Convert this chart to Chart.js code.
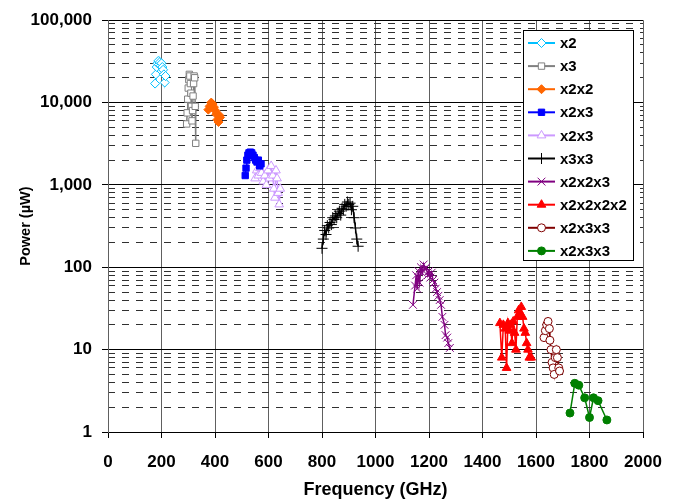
<!DOCTYPE html>
<html><head><meta charset="utf-8">
<script src="https://cdn.jsdelivr.net/npm/chart.js@4.4.1/dist/chart.umd.min.js"></script>
<style>html,body{margin:0;padding:0;background:#fff}#wrap{width:678px;height:501px}</style>
</head><body><div id="wrap"><canvas id="c" width="678" height="501"></canvas></div>
<script>
// ---------- data ----------
const seriesNames = ['x2','x3','x2x2','x2x3','x2x3','x3x3','x2x2x3','x2x2x2x2','x2x3x3','x2x3x3'];
const yTickValues = [1,10,100,1000,10000,100000];
const yMinorValues = [2,3,4,5,6,7,8,9,20,30,40,50,60,70,80,90,200,300,400,500,600,700,800,900,2000,3000,4000,5000,6000,7000,8000,9000,20000,30000,40000,50000,60000,70000,80000,90000];
const xTickStep = 200;

const x2Freq  = [176,179,182,185,188,191,194,197,200,203,206,209,212,215];
const x2Power = [17000,22000,27000,30000,32000,29000,31000,28000,30000,27000,25000,22000,17500,21000];

const x3Freq  = [294,296,298,300,302,304,306,308,310,312,314,316,318,320,322,324,326,328];
const x3Power = [5500,7500,11000,15000,19000,22000,21000,17000,13000,9000,6000,8000,12000,17000,21000,20000,9000,3200];

const x2x2Freq  = [375,380,386,391,396,401,405,409,413,416,419];
const x2x2Power = [8200,9000,10000,9600,8800,8000,7200,6200,5800,7000,6600];

const x2x3aFreq  = [513,516,519,523,527,532,537,542,547,552,557,562,567,572];
const x2x3aPower = [1300,1600,2000,2300,2450,2500,2450,2300,2150,2000,1900,2000,1700,1800];

const x2x3bFreq  = [550,556,562,568,574,580,586,592,598,604,610,616,620,624,628,632,636,640,644];
const x2x3bPower = [1200,1500,1300,1600,1400,1100,1300,1000,1500,1200,1700,1300,900,700,1500,1200,800,580,900];

const x3x3Freq  = [800,805,810,815,820,825,830,835,840,845,850,855,860,865,870,875,880,885,890,895,900,905,910,915,920,925,930,935];
const x3x3Power = [170,220,280,250,320,300,350,330,400,380,420,400,450,480,430,520,500,580,550,620,580,600,500,550,400,300,220,180];

const x2x2x3Freq  = [1140,1148,1152,1156,1160,1165,1170,1175,1180,1185,1190,1195,1200,1205,1210,1215,1220,1225,1230,1235,1240,1245,1250,1258,1262,1268,1272,1278];
const x2x2x3Power = [35,60,80,55,90,65,100,85,108,95,100,80,90,75,86,70,65,55,50,45,40,35,25,20,15,14,12,10.5];

const x2x2x2x2Freq  = [1465,1472,1478,1485,1490,1495,1500,1505,1510,1515,1520,1525,1530,1535,1540,1545,1550,1555,1560,1565,1570,1575,1582];
const x2x2x2x2Power = [21,8,20,18,6,21,17,20,12,22,16,10,25,30,28,33,25,18,16,12,10,8,8];

const x2x3x3aFreq  = [1630,1635,1640,1645,1650,1652,1656,1660,1664,1668,1672,1676,1680,1685,1688];
const x2x3x3aPower = [14,17,20,22,18,13,10,7,6,5,8,10,8,6,5.5];

const x2x3x3bFreq  = [1727,1745,1760,1782,1800,1815,1832,1865];
const x2x3x3bPower = [1.7,3.9,3.7,2.6,1.5,2.6,2.4,1.4];

// ---------- chart ----------
function pts(f, p) { return f.map((v, i) => ({x: v, y: p[i]})); }
function mk(label, f, p, color, style, filled, radius) {
  return {
    label: label, data: pts(f, p), showLine: true,
    borderColor: color, backgroundColor: color, borderWidth: 1.5,
    pointStyle: style, pointRadius: radius, pointHoverRadius: radius,
    pointBorderColor: color, pointBackgroundColor: filled ? color : '#ffffff',
    pointBorderWidth: 1, tension: 0
  };
}
const datasets = [
  mk(seriesNames[0], x2Freq, x2Power, '#00c0ff', 'rectRot', false, 4.5),
  mk(seriesNames[1], x3Freq, x3Power, '#808080', 'rect', false, 4.5),
  mk(seriesNames[2], x2x2Freq, x2x2Power, '#ff6600', 'rectRot', true, 4.5),
  mk(seriesNames[3], x2x3aFreq, x2x3aPower, '#0000ff', 'rect', true, 4.5),
  mk(seriesNames[4], x2x3bFreq, x2x3bPower, '#cc99ff', 'triangle', false, 5),
  mk(seriesNames[5], x3x3Freq, x3x3Power, '#000000', 'cross', false, 5.5),
  mk(seriesNames[6], x2x2x3Freq, x2x2x3Power, '#800080', 'crossRot', false, 5.5),
  mk(seriesNames[7], x2x2x2x2Freq, x2x2x2x2Power, '#ff0000', 'triangle', true, 5),
  mk(seriesNames[8], x2x3x3aFreq, x2x3x3aPower, '#800000', 'circle', false, 4),
  mk(seriesNames[9], x2x3x3bFreq, x2x3x3bPower, '#008000', 'circle', true, 4)
];

const FONT = 'Liberation Sans, Arial, sans-serif';

const boxLegend = {
  id: 'boxLegend',
  afterDraw(chart) {
    const ctx = chart.ctx, a = chart.chartArea;
    const bx = Math.round(a.right - 120), by = Math.round(a.top + 10), bw = 110, bh = 230;
    ctx.save();
    ctx.fillStyle = '#ffffff'; ctx.fillRect(bx, by, bw, bh);
    ctx.strokeStyle = '#000000'; ctx.lineWidth = 1; ctx.setLineDash([]);
    ctx.strokeRect(bx + 0.5, by + 0.5, bw, bh);
    chart.data.datasets.forEach((ds, i) => {
      const y = by + 13 + i * 23.1;
      ctx.strokeStyle = ds.borderColor; ctx.lineWidth = 2;
      ctx.beginPath(); ctx.moveTo(bx + 5, y); ctx.lineTo(bx + 32, y); ctx.stroke();
      ctx.fillStyle = ds.pointBackgroundColor; ctx.strokeStyle = ds.pointBorderColor; ctx.lineWidth = 1;
      Chart.helpers.drawPoint(ctx, {pointStyle: ds.pointStyle, radius: ds.pointRadius, borderWidth: 1, rotation: 0}, bx + 18.5, y);
      ctx.fillStyle = '#000000';
      ctx.font = 'bold 15px ' + FONT;
      ctx.textBaseline = 'middle'; ctx.textAlign = 'left';
      ctx.fillText(ds.label, bx + 37, y + 1);
    });
    ctx.restore();
  }
};

new Chart(document.getElementById('c'), {
  type: 'scatter',
  data: { datasets: datasets },
  plugins: [boxLegend],
  options: {
    responsive: false, animation: false, devicePixelRatio: 1,
    layout: { padding: { left: 0, right: 35, top: 14, bottom: 0 } },
    plugins: { legend: { display: false }, tooltip: { enabled: false } },
    scales: {
      x: {
        type: 'linear', min: 0, max: 2000,
        afterFit: (s) => { s.height = 69; },
        ticks: { stepSize: xTickStep, color: '#000', font: { family: FONT, size: 17, weight: 'bold' }, padding: 14, maxRotation: 0,
          callback: (v) => String(v) },
        grid: { color: '#606060', lineWidth: 1, tickColor: '#000', tickLength: 6 },
        border: { color: '#000', width: 1 },
        title: { display: true, text: 'Frequency (GHz)', color: '#000', font: { family: FONT, size: 18, weight: 'bold' }, padding: { top: 0, bottom: 0 } }
      },
      y: {
        type: 'logarithmic', min: 1, max: 100000,
        afterFit: (s) => { s.width = 108; },
        afterBuildTicks: (s) => { s.ticks = yTickValues.map(v => ({ value: v })); },
        ticks: { color: '#000', font: { family: FONT, size: 17, weight: 'bold' }, padding: 10,
          callback: (v) => Number(v).toLocaleString('en-US') },
        grid: { color: '#000', lineWidth: 1, tickColor: '#000', tickLength: 6 },
        border: { color: '#606060', width: 1 },
        title: { display: true, text: 'Power (µW)', color: '#000', font: { family: FONT, size: 14.5, weight: 'bold' }, padding: { top: 17, bottom: 0 } }
      },
      y2: {
        type: 'logarithmic', min: 1, max: 100000, position: 'right',
        afterBuildTicks: (s) => { s.ticks = yMinorValues.map(v => ({ value: v })); },
        ticks: { display: false },
        grid: { color: '#303030', lineWidth: 1, drawTicks: false },
        border: { display: false, dash: [7, 7] }
      }
    }
  }
});
</script>
</body></html>
